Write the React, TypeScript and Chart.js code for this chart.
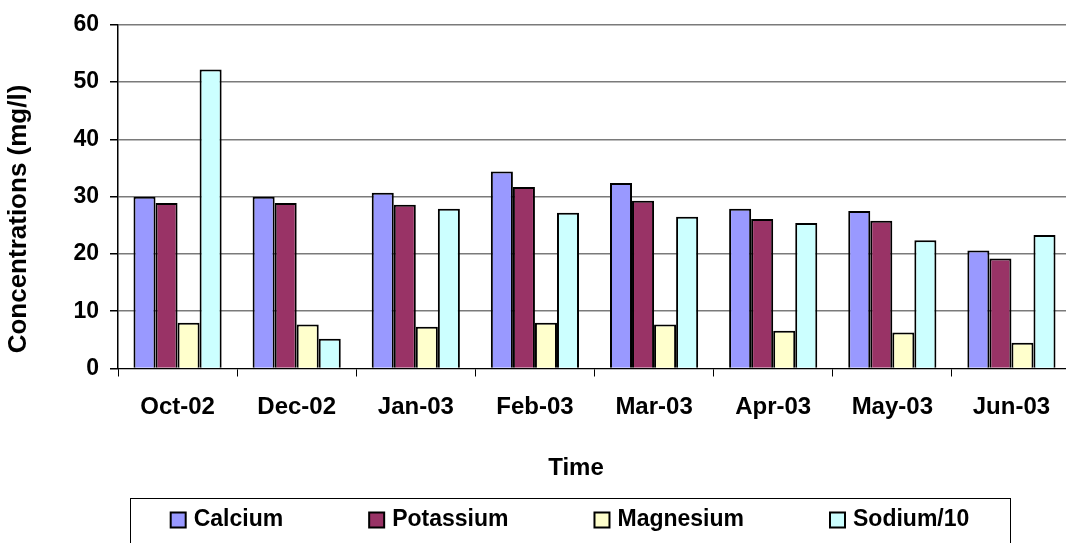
import React, { useEffect, useRef } from "react";
import { Chart, registerables } from "chart.js";

Chart.register(...registerables);

const months = ["Oct-02", "Dec-02", "Jan-03", "Feb-03", "Mar-03", "Apr-03", "May-03", "Jun-03"];
const calcium = [30.0, 30.0, 30.7, 34.4, 32.4, 27.9, 27.5, 20.6];
const potassium = [28.9, 28.9, 28.6, 31.7, 29.3, 26.1, 25.8, 19.2];
const magnesium = [8.0, 7.7, 7.3, 8.0, 7.7, 6.6, 6.3, 4.5];
const sodiumDiv10 = [52.2, 5.2, 27.9, 27.2, 26.5, 25.4, 22.4, 23.3];

const seriesNames = ["Calcium", "Potassium", "Magnesium", "Sodium/10"];
const seriesColors = ["#9999FF", "#993366", "#FFFFCC", "#CCFFFF"];
const yTitle = "Concentrations (mg/l)";
const xTitle = "Time";

const FONT = "'Liberation Sans', Arial, sans-serif";

const titlesAndLegendPlugin = {
  id: "titlesAndLegend",
  afterDraw(chart: any) {
    const ctx = chart.ctx;
    ctx.save();
    ctx.fillStyle = "#000";
    ctx.textAlign = "center";
    ctx.textBaseline = "middle";
    // x axis title
    ctx.font = `bold 24px ${FONT}`;
    ctx.fillText(xTitle, 576, 468);
    // y axis title
    ctx.save();
    ctx.translate(19, 219);
    ctx.rotate(-Math.PI / 2);
    ctx.font = `bold 26px ${FONT}`;
    ctx.fillText(yTitle, 0, 0);
    ctx.restore();

    // legend box
    const boxLeft = 130, boxTop = 498, boxW = 880, boxH = 60;
    ctx.strokeStyle = "#000";
    ctx.lineWidth = 1;
    ctx.strokeRect(boxLeft + 0.5, boxTop + 0.5, boxW, boxH);

    ctx.font = `bold 23px ${FONT}`;
    const sw = 15, gapText = 8, gapItem = 86;
    const widths = seriesNames.map((n) => ctx.measureText(n).width);
    const total = widths.reduce((a, w) => a + sw + gapText + w, 0) + gapItem * (seriesNames.length - 1);
    let x = boxLeft + (boxW - total) / 2;
    const cy = 520;
    ctx.textAlign = "left";
    ctx.textBaseline = "middle";
    seriesNames.forEach((name, i) => {
      ctx.fillStyle = seriesColors[i];
      ctx.fillRect(x, cy - sw / 2, sw, sw);
      ctx.lineWidth = 2;
      ctx.strokeStyle = "#000";
      ctx.strokeRect(x, cy - sw / 2, sw, sw);
      ctx.fillStyle = "#000";
      ctx.fillText(name, x + sw + gapText, cy);
      x += sw + gapText + widths[i] + gapItem;
    });
    ctx.restore();
  },
};

export default function App() {
  const ref = useRef<HTMLCanvasElement | null>(null);
  useEffect(() => {
    if (!ref.current) return;
    const series = [calcium, potassium, magnesium, sodiumDiv10];
    const chart = new Chart(ref.current, {
      type: "bar",
      data: {
        labels: months,
        datasets: series.map((d, i) => ({
          label: seriesNames[i],
          data: d,
          backgroundColor: seriesColors[i],
          borderColor: "#000",
          borderWidth: 2,
          categoryPercentage: 0.74,
          barPercentage: 1.0,
        })),
      },
      plugins: [titlesAndLegendPlugin],
      options: {
        responsive: false,
        animation: false,
        layout: { padding: { top: 24, right: 4, left: 0, bottom: 0 } },
        plugins: { legend: { display: false }, tooltip: { enabled: false } },
        scales: {
          x: {
            afterFit: (s: any) => { s.height = 174.5; },
            grid: { drawOnChartArea: false, drawTicks: true, tickLength: 8, color: "#000", offset: true },
            border: { color: "#000", width: 1 },
            ticks: { color: "#000", font: { family: FONT, size: 24, weight: "bold" }, padding: 16, maxRotation: 0 },
          },
          y: {
            min: 0,
            max: 60,
            afterFit: (s: any) => { s.width = 118; },
            ticks: { stepSize: 10, color: "#000", font: { family: FONT, size: 23, weight: "bold" }, padding: 11 },
            grid: { color: "#7a7a7a", lineWidth: 1.5, tickColor: "#000", tickLength: 8 },
            border: { color: "#000", width: 1.5 },
          },
        },
      },
    });
    return () => chart.destroy();
  }, []);
  return (
    <div style={{ position: "fixed", left: 0, top: 0, width: 1066, height: 543, overflow: "hidden", background: "#fff" }}>
      <canvas ref={ref} width={1075} height={543} style={{ display: "block" }} />
    </div>
  );
}
